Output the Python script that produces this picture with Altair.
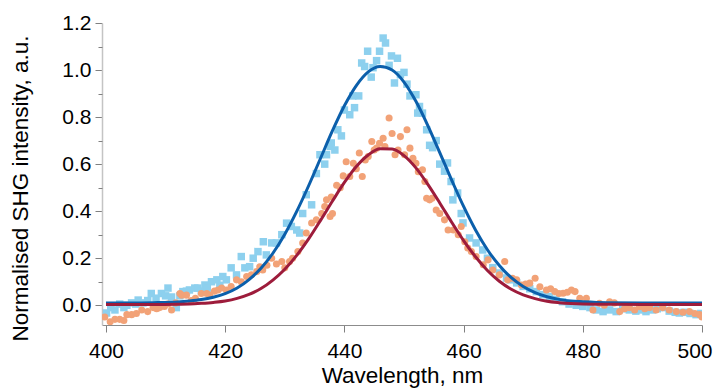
import altair as alt
import pandas as pd

# Measured data (light blue squares)
blue_x = [400.1, 400.8, 401.5, 402.3, 403.0, 403.5, 404.3, 405.0, 405.4, 406.2,
          407.0, 407.6, 408.4, 409.3, 410.0, 410.4, 411.0, 411.8, 412.4, 412.9,
          413.5, 414.0, 414.9, 415.4, 416.0, 416.6, 417.0, 417.7, 418.6, 419.1,
          419.6, 420.2, 421.0, 421.9, 422.7, 423.3, 424.1, 424.7, 425.5, 426.4,
          426.9, 427.8, 428.6, 429.5, 430.3, 431.1, 432.0, 432.5, 433.0, 433.6,
          434.5, 435.3, 435.9, 436.7, 437.0, 437.6, 437.8, 438.4, 438.9, 439.5,
          440.0, 440.9, 441.4, 441.7, 442.4, 442.9, 443.4, 443.9, 444.5, 444.8,
          445.4, 445.9, 446.5, 446.9, 447.5, 447.9, 448.4, 448.9, 449.4, 450.0,
          450.5, 451.0, 452.0, 452.3, 452.6, 453.1, 453.8, 454.3, 454.8, 455.4,
          456.0, 456.8, 457.3, 457.9, 458.2, 459.0, 459.6, 459.9, 461.0, 462.1,
          463.2, 464.0, 464.9, 466.0, 467.2, 467.8, 468.9, 470.0, 471.1, 472.2,
          473.3, 474.4, 475.5, 476.6, 477.7, 478.9, 480.0, 481.2, 482.3, 483.4,
          484.5, 485.6, 486.7, 487.8, 488.9, 490.0, 490.6, 491.7, 492.5, 493.4,
          494.5, 495.5, 496.2, 497.0, 498.0, 499.0, 499.8]
blue_y = [-0.033, -0.010, -0.020, 0.005, -0.010, 0.000, 0.010, 0.005, 0.022, 0.010,
          0.020, 0.050, 0.030, 0.050, 0.040, 0.073, 0.035, -0.010, 0.040, 0.058,
          0.060, 0.065, 0.073, 0.073, 0.060, 0.086, 0.073, 0.100, 0.108, 0.085,
          0.122, 0.108, 0.159, 0.129, 0.207, 0.159, 0.164, 0.200, 0.228, 0.270,
          0.214, 0.265, 0.265, 0.300, 0.349, 0.335, 0.320, 0.307, 0.390, 0.470,
          0.427, 0.560, 0.640, 0.600, 0.640, 0.675, 0.690, 0.660, 0.746, 0.720,
          0.830, 0.810, 0.890, 0.840, 0.890, 1.030, 1.015, 1.080, 0.970, 1.010,
          1.040, 1.080, 1.136, 1.115, 1.020, 1.060, 0.945, 1.050, 0.980, 0.990,
          0.940, 0.890, 0.895, 0.817, 0.845, 0.817, 0.746, 0.680, 0.670, 0.700,
          0.600, 0.570, 0.605, 0.526, 0.448, 0.477, 0.390, 0.350, 0.286, 0.265,
          0.235, 0.200, 0.160, 0.137, 0.116, 0.108, 0.095, 0.080, 0.070, 0.058,
          0.045, 0.037, 0.025, 0.015, 0.005, 0.000, -0.005, -0.010, -0.020, -0.027,
          -0.020, -0.027, -0.015, -0.020, -0.025, -0.020, -0.027, -0.020, -0.015, -0.010,
          -0.025, -0.030, -0.033, -0.030, -0.035, -0.040, -0.035]

# Measured data (orange circles)
orange_x = [399.8, 400.7, 401.5, 402.3, 403.0, 403.5, 404.3, 405.1, 406.0, 407.0,
            407.9, 408.5, 409.0, 409.8, 410.4, 411.0, 411.7, 412.4, 412.7, 413.5,
            414.3, 415.0, 416.0, 416.9, 417.4, 418.2, 418.8, 419.4, 420.2, 421.0,
            421.9, 422.7, 423.6, 424.4, 425.3, 425.8, 426.3, 427.0, 427.8, 428.6,
            429.5, 430.0, 430.8, 431.3, 432.2, 433.0, 433.6, 434.5, 435.3, 436.2,
            436.7, 437.0, 437.6, 437.8, 438.0, 438.7, 439.3, 439.8, 440.3, 440.9,
            441.5, 442.0, 442.5, 443.0, 443.5, 444.0, 444.6, 445.0, 445.4, 445.9,
            446.5, 446.8, 447.5, 448.0, 448.5, 449.0, 449.4, 450.1, 450.5, 451.0,
            451.5, 452.0, 452.4, 453.1, 453.5, 453.8, 454.3, 454.7, 455.4, 456.0,
            456.8, 457.4, 458.3, 459.1, 459.6, 460.2, 460.7, 461.3, 462.1, 463.3,
            464.1, 464.9, 466.0, 466.9, 467.4, 468.2, 468.9, 469.7, 470.4, 471.1,
            472.0, 472.8, 473.9, 474.6, 475.3, 476.0, 476.7, 477.4, 478.1, 478.7,
            479.5, 480.6, 481.7, 482.8, 483.6, 484.5, 485.3, 486.2, 487.0, 487.8,
            488.7, 489.5, 490.4, 491.2, 492.3, 493.4, 494.5, 495.7, 496.8, 497.9,
            498.8, 499.6, 500.0]
orange_y = [-0.050, -0.070, -0.060, -0.060, -0.065, -0.040, -0.040, -0.035, -0.020, -0.027,
            -0.010, -0.015, -0.010, -0.005, 0.005, -0.020, 0.010, 0.050, 0.043, 0.043,
            0.020, 0.030, 0.050, 0.050, 0.043, 0.060, 0.065, 0.073, 0.065, 0.080,
            0.108, 0.100, 0.122, 0.130, 0.143, 0.164, 0.150, 0.170, 0.200, 0.175,
            0.186, 0.159, 0.186, 0.200, 0.228, 0.265, 0.307, 0.350, 0.363, 0.390,
            0.420, 0.448, 0.377, 0.460, 0.390, 0.510, 0.500, 0.550, 0.610, 0.547,
            0.604, 0.580, 0.647, 0.547, 0.618, 0.632, 0.696, 0.660, 0.668, 0.689,
            0.710, 0.675, 0.796, 0.730, 0.640, 0.660, 0.717, 0.640, 0.746, 0.668,
            0.625, 0.604, 0.568, 0.576, 0.526, 0.455, 0.448, 0.455, 0.405, 0.390,
            0.363, 0.320, 0.320, 0.300, 0.335, 0.270, 0.243, 0.228, 0.207, 0.172,
            0.193, 0.150, 0.129, 0.186, 0.108, 0.115, 0.108, 0.086, 0.090, 0.094,
            0.115, 0.079, 0.065, 0.070, 0.058, 0.050, 0.051, 0.055, 0.065, 0.058,
            0.030, 0.030, -0.020, 0.008, 0.000, 0.015, 0.010, -0.027, -0.015, -0.010,
            -0.020, -0.006, -0.015, -0.010, -0.020, -0.010, -0.020, -0.027, -0.030, -0.027,
            -0.035, -0.040, -0.050]

# Fitted curves
fit_x = [400, 404, 408, 412, 414, 416, 418, 420, 422, 424, 426, 428, 430, 432,
         434, 436, 438, 440, 442, 444, 446, 448, 450, 452, 454, 456, 458, 460,
         462, 464, 466, 468, 470, 472, 474, 476, 478, 480, 484, 490, 500]
blue_fit = [0.010, 0.010, 0.011, 0.014, 0.018, 0.024, 0.034, 0.049, 0.073, 0.109,
            0.157, 0.221, 0.302, 0.399, 0.508, 0.625, 0.742, 0.848, 0.934, 0.992,
            1.015, 1.000, 0.949, 0.867, 0.764, 0.649, 0.532, 0.420, 0.320, 0.236,
            0.169, 0.117, 0.080, 0.054, 0.036, 0.025, 0.018, 0.015, 0.011, 0.010, 0.010]
red_fit = [0.003, 0.003, 0.003, 0.004, 0.005, 0.008, 0.012, 0.018, 0.029, 0.046,
           0.071, 0.107, 0.153, 0.212, 0.282, 0.361, 0.443, 0.522, 0.590, 0.639,
           0.665, 0.664, 0.636, 0.584, 0.514, 0.435, 0.353, 0.275, 0.206, 0.148,
           0.102, 0.068, 0.044, 0.028, 0.017, 0.011, 0.007, 0.005, 0.004, 0.003, 0.003]

x_ticks = [400, 420, 440, 460, 480, 500]
y_ticks = [0.0, 0.2, 0.4, 0.6, 0.8, 1.0, 1.2]
y_minor = [0.1, 0.3, 0.5, 0.7, 0.9, 1.1]

FONT = "Liberation Sans"

blue_df = pd.DataFrame({"x": blue_x, "y": blue_y})
orange_df = pd.DataFrame({"x": orange_x, "y": orange_y})
fit_df = pd.DataFrame({"x": fit_x, "blue": blue_fit, "red": red_fit})
minor_df = pd.DataFrame({"y": y_minor})

xscale = alt.Scale(domain=[399.33, 500], nice=False, zero=False)
yscale = alt.Scale(domain=[-0.084, 1.2], nice=False, zero=False)

xaxis = alt.Axis(values=x_ticks, format="d", title="Wavelength, nm", grid=False,
                 tickSize=7, tickColor="#808080", domainColor="#8c8c8c",
                 labelPadding=8, labelFontSize=21, labelFont=FONT, labelColor="#000000",
                 labelFlush=True, labelFlushOffset=10, labelOverlap=False,
                 titleFontSize=22.5, titleFont=FONT, titleFontWeight="normal",
                 titleColor="#000000", titleY=57.7, titleBaseline="alphabetic")
yaxis = alt.Axis(values=y_ticks, format=".1f", title="Normalised SHG intensity, a.u.",
                 grid=False, tickSize=7, tickColor="#808080", domainColor="#c4c4c4",
                 domainWidth=1.5, labelPadding=4, labelFontSize=21, labelFont=FONT,
                 labelColor="#000000", labelFlush=False, labelOverlap=False,
                 titleFontSize=22.5, titleFont=FONT,
                 titleFontWeight="normal", titleColor="#000000", titleX=-75, titleY=165,
                 titleBaseline="alphabetic", titleAlign="center")

X = alt.X("x:Q", scale=xscale, axis=xaxis)

blue_pts = alt.Chart(blue_df).mark_square(size=56, color="#8dd0ee", opacity=1, clip=True).encode(
    x=X, y=alt.Y("y:Q", scale=yscale, axis=yaxis))
orange_pts = alt.Chart(orange_df).mark_circle(size=50, color="#f2a277", opacity=1, clip=True).encode(
    x=X, y=alt.Y("y:Q", scale=yscale, axis=yaxis))
blue_line = alt.Chart(fit_df).mark_line(color="#0b5fab", strokeWidth=3, interpolate="monotone").encode(
    x=X, y=alt.Y("blue:Q", scale=yscale, axis=yaxis))
red_line = alt.Chart(fit_df).mark_line(color="#9d1c3b", strokeWidth=3, interpolate="monotone").encode(
    x=X, y=alt.Y("red:Q", scale=yscale, axis=yaxis))

main = alt.layer(blue_pts, orange_pts, blue_line, red_line)

minor = alt.Chart(minor_df).mark_point(opacity=0).encode(
    y=alt.Y("y:Q", scale=yscale,
            axis=alt.Axis(values=y_minor, orient="left", labels=False, domain=False,
                          grid=False, tickSize=4, tickColor="#808080", title=None)))

chart = alt.layer(main, minor).resolve_axis(y="independent").properties(
    width=600, height=302,
    padding={"left": 94, "top": 15, "right": 12, "bottom": 64},
    autosize=alt.AutoSizeParams(type="none"),
    background="#ffffff",
).configure_view(stroke=None)

chart.save("out.html", embed_options={"renderer": "svg", "actions": False})
